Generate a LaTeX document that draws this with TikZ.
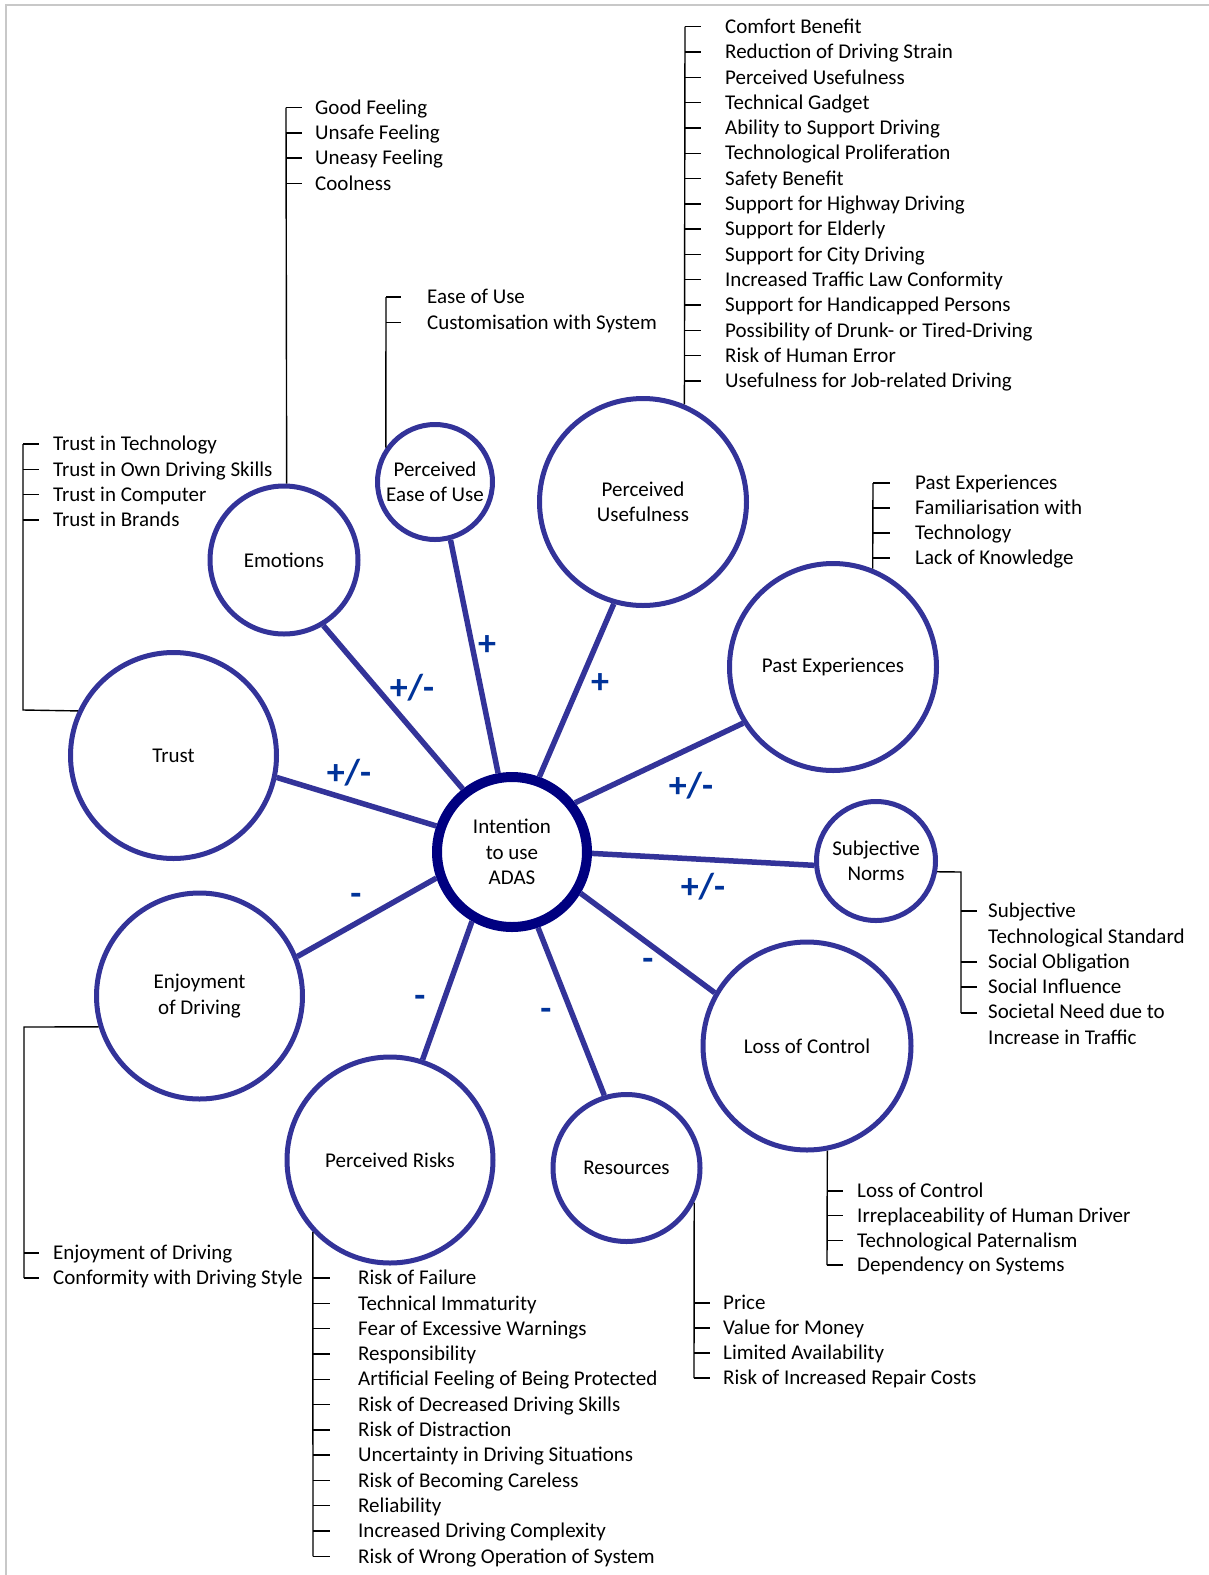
\documentclass[tikz,border=0pt]{standalone}
\usepackage{fontspec}
\setmainfont{Carlito}
\definecolor{ring}{RGB}{51,51,153}
\definecolor{hub}{RGB}{0,0,128}
\definecolor{sign}{RGB}{0,51,153}
\definecolor{framegray}{RGB}{200,200,200}
\newcommand\itemfont{\fontsize{21}{25.3}\selectfont}
\newcommand\signfont{\fontsize{36}{38}\selectfont\bfseries}

\begin{document}
\begin{tikzpicture}[x=1pt,y=-1pt,
  factor/.style={circle, draw=ring, line width=5pt, inner sep=0pt, align=center, font=\itemfont},
  link/.style={draw=ring, line width=5.5pt},
  tree/.style={draw=black, line width=1.4pt},
  item/.style={anchor=base west, inner sep=0pt, font=\itemfont},
  sgn/.style={font=\signfont, text=sign, inner sep=0pt}
]
\useasboundingbox (0,0) rectangle (1209,1575);
\draw[framegray, line width=1.3pt] (6,1580) -- (6,5) -- (1215,5);

% central construct
\node[circle, draw=hub, line width=10pt, minimum size=150pt, inner sep=0pt, align=center, font=\itemfont]
  (hub) at (512,852) {Intention\\to use\\ADAS};

% influencing factors
\node[factor, minimum size=148pt] (emo)   at (284,560)    {Emotions};
\node[factor, minimum size=115pt] (peou)  at (435,482)    {Perceived\\Ease of Use};
\node[factor, minimum size=207pt] (pu)    at (643,502)    {Perceived\\Usefulness};
\node[factor, minimum size=207pt] (past)  at (833,667)    {Past Experiences};
\node[factor, minimum size=119pt] (subj)  at (876,861)    {Subjective\\Norms};
\node[factor, minimum size=208pt] (loss)  at (807,1046)   {Loss of Control};
\node[factor, minimum size=147pt] (res)   at (626.5,1168) {Resources};
\node[factor, minimum size=206pt] (risk)  at (390,1160)   {Perceived Risks};
\node[factor, minimum size=206pt] (enjoy) at (199.5,996)  {Enjoyment\\of Driving};
\node[factor, minimum size=206pt] (trust) at (173.5,755.5){Trust};

% links to the central construct
\draw[link] (hub.161) -- (trust.348);
\draw[link] (hub.128) -- (emo.301);
\draw[link] (hub.100) -- (peou.285);
\draw[link] (hub.70)  -- (pu.254);
\draw[link] (hub.38)  -- (past.212);
\draw[link] (hub.359) -- (subj.184);
\draw[link] (hub.329) -- (loss.150);
\draw[link] (hub.289) -- (res.107);
\draw[link] (hub.240) -- (risk.72);
\draw[link] (hub.199) -- (enjoy.22);

% direction of influence
\node[sgn] (s-emo)   at (412,688)  {+/-};
\node[sgn] (s-peou)  at (487,646)  {+};
\node[sgn] (s-pu)    at (600,684)  {+};
\node[sgn] (s-trust) at (349,773)  {+/-};
\node[sgn] (s-past)  at (691,786)  {+/-};
\node[sgn] (s-subj)  at (703,887)  {+/-};
\node[sgn] (s-enjoy) at (356,899)  {-};
\node[sgn] (s-risk)  at (420,1001) {-};
\node[sgn] (s-res)   at (546,1014) {-};
\node[sgn] (s-loss)  at (648,964)  {-};

% ---- item lists ----
% Emotions
\coordinate (emo-top) at (286,107.5);
\draw[tree] (emo.88) -- (emo-top);
\foreach \t [count=\i from 0] in {Good Feeling, Unsafe Feeling, Uneasy Feeling, Coolness} {
  \draw[tree] (286,{107.5+25.3*\i}) -- ++(16,0);
  \node[item] (emo-\i) at (315,{114.2+25.3*\i}) {\t};
}

% Perceived Ease of Use
\coordinate (peou-top) at (386,297);
\draw[tree] (peou.145) -- (peou-top);
\foreach \t [count=\i from 0] in {Ease of Use, Customisation with System} {
  \draw[tree] (386,{297+25.3*\i}) -- ++(15,0);
  \node[item] (peou-\i) at (427,{303.7+25.3*\i}) {\t};
}

% Perceived Usefulness
\coordinate (pu-top) at (685,26.7);
\draw[tree] (pu.67) -- (pu-top);
\foreach \t [count=\i from 0] in {Comfort Benefit, Reduction of Driving Strain, Perceived Usefulness,
  Technical Gadget, Ability to Support Driving, Technological Proliferation, Safety Benefit,
  Support for Highway Driving, Support for Elderly, Support for City Driving,
  Increased Traffic Law Conformity, Support for Handicapped Persons,
  Possibility of Drunk- or Tired-Driving, Risk of Human Error, Usefulness for Job-related Driving} {
  \draw[tree] (685,{26.7+25.3*\i}) -- ++(16,0);
  \node[item] (pu-\i) at (725,{33.4+25.3*\i}) {\t};
}

% Trust
\coordinate (trust-top) at (23,444);
\coordinate (trust-bend) at (23,710);
\draw[tree] (trust.155) -- (trust-bend) -- (trust-top);
\foreach \t [count=\i from 0] in {Trust in Technology, Trust in Own Driving Skills, Trust in Computer, Trust in Brands} {
  \draw[tree] (23,{444+25.3*\i}) -- ++(16,0);
  \node[item] (trust-\i) at (53,{450.7+25.3*\i}) {\t};
}

% Past Experiences
\coordinate (past-top) at (873,483);
\draw[tree] (past.68) -- (past-top);
\foreach \t [count=\i from 0] in {Past Experiences, Familiarisation with, Technology, Lack of Knowledge} {
  \draw[tree] (873,{483+25*\i}) -- ++(17,0);
  \node[item] (past-\i) at (915,{489.7+25*\i}) {\t};
}

% Subjective Norms
\coordinate (subj-bend) at (961,872);
\coordinate (subj-end) at (961,1013);
\draw[tree] (subj.350) -- (subj-bend) -- (subj-end);
\foreach \y in {911,962,987,1013} \draw[tree] (961,\y) -- ++(16,0);
\foreach \t [count=\i from 0] in {Subjective, Technological Standard, Social Obligation, Social Influence,
  Societal Need due to, Increase in Traffic} {
  \node[item] (subj-\i) at (988,{917.7+25.3*\i}) {\t};
}

% Loss of Control
\coordinate (loss-end) at (827,1265);
\draw[tree] (loss.281) -- (loss-end);
\foreach \t [count=\i from 0] in {Loss of Control, Irreplaceability of Human Driver, Technological Paternalism, Dependency on Systems} {
  \draw[tree] (827,{1191+24.7*\i}) -- ++(16,0);
  \node[item] (loss-\i) at (857,{1197.7+24.7*\i}) {\t};
}

% Resources
\coordinate (res-end) at (694,1378);
\draw[tree] (res.333) -- (res-end);
\foreach \t [count=\i from 0] in {Price, Value for Money, Limited Availability, Risk of Increased Repair Costs} {
  \draw[tree] (694,{1303+25*\i}) -- ++(16,0);
  \node[item] (res-\i) at (723,{1309.7+25*\i}) {\t};
}

% Perceived Risks
\coordinate (risk-end) at (313,1556.3);
\draw[tree] (risk.223) -- (risk-end);
\foreach \t [count=\i from 0] in {Risk of Failure, Technical Immaturity, Fear of Excessive Warnings, Responsibility,
  Artificial Feeling of Being Protected, Risk of Decreased Driving Skills, Risk of Distraction,
  Uncertainty in Driving Situations, Risk of Becoming Careless, Reliability,
  Increased Driving Complexity, Risk of Wrong Operation of System} {
  \draw[tree] (313,{1278+25.3*\i}) -- ++(17,0);
  \node[item] (risk-\i) at (358,{1284.7+25.3*\i}) {\t};
}

% Enjoyment of Driving
\coordinate (enjoy-bend) at (24,1027);
\coordinate (enjoy-end) at (24,1278);
\draw[tree] (enjoy.197) -- (enjoy-bend) -- (enjoy-end);
\foreach \t [count=\i from 0] in {Enjoyment of Driving, Conformity with Driving Style} {
  \draw[tree] (24,{1253+25*\i}) -- ++(15,0);
  \node[item] (enjoy-\i) at (53,{1259.7+25*\i}) {\t};
}
\end{tikzpicture}
\end{document}
